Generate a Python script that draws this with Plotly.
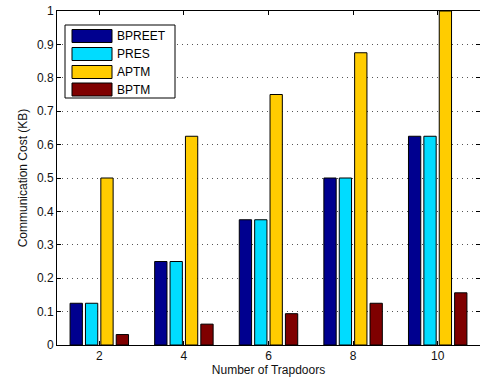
import plotly.graph_objects as go

trapdoors = [2, 4, 6, 8, 10]
series_names = ["BPREET", "PRES", "APTM", "BPTM"]
bpreet = [0.125, 0.25, 0.375, 0.5, 0.625]
pres = [0.125, 0.25, 0.375, 0.5, 0.625]
aptm = [0.5, 0.625, 0.75, 0.875, 1.0]
bptm = [0.03125, 0.0625, 0.09375, 0.125, 0.15625]
colors = ["#00008F", "#00DCFF", "#FFCC00", "#7F0000"]
y_ticks = [0, 0.1, 0.2, 0.3, 0.4, 0.5, 0.6, 0.7, 0.8, 0.9, 1]
y_tick_labels = ["0", "0.1", "0.2", "0.3", "0.4", "0.5", "0.6", "0.7", "0.8", "0.9", "1"]

W, H = 480, 381
ML, MR, MT, MB = 57, 0, 11, 36
PW, PH = W - ML - MR, H - MT - MB

fig = go.Figure()
for name, vals, col in zip(series_names, [bpreet, pres, aptm, bptm], colors):
    fig.add_trace(go.Bar(x=trapdoors, y=vals, name=name, marker_color=col,
                         marker_line_color="black", marker_line_width=1,
                         showlegend=False))

fam = "Liberation Sans, Arial, Helvetica, sans-serif"
font = dict(family=fam, size=12, color="#111")
tickfont = dict(family=fam, size=12, color="#111")

fig.update_layout(
    width=W, height=H,
    margin=dict(l=ML, r=MR, t=MT, b=MB),
    paper_bgcolor="white", plot_bgcolor="white",
    barmode="group", bargap=0.2727, bargroupgap=0.2,
    font=font,
    xaxis=dict(range=[1, 11], tickvals=trapdoors, ticktext=[str(t) for t in trapdoors],
               ticks="inside", ticklen=4, tickcolor="black", showline=True,
               linecolor="black", linewidth=1, mirror=True, showgrid=False,
               zeroline=False, tickfont=tickfont,
               title=dict(text="Number of Trapdoors", standoff=3, font=font)),
    yaxis=dict(range=[0, 1], tickvals=y_ticks, ticktext=y_tick_labels,
               ticks="inside", ticklen=4, tickcolor="black", showline=True,
               linecolor="black", linewidth=1, mirror=False, showgrid=True,
               gridcolor="#555", griddash="1px,4px", gridwidth=1, zeroline=False,
               tickfont=tickfont,
               title=dict(text="Communication Cost (KB)", standoff=6, font=font)),
    xaxis2=dict(range=[1, 11], overlaying="x", side="top", tickvals=trapdoors,
                ticks="inside", ticklen=4, tickcolor="black", showticklabels=False,
                showline=False, showgrid=False, zeroline=False),
    yaxis2=dict(range=[0, 1], overlaying="y", side="right", tickvals=y_ticks,
                ticks="inside", ticklen=4, tickcolor="black", showticklabels=False,
                showline=False, showgrid=False, zeroline=False),
)
# invisible trace so the mirror axes render
fig.add_trace(go.Scatter(x=[1], y=[0], xaxis="x2", yaxis="y2", mode="markers",
                         marker=dict(opacity=0), showlegend=False, hoverinfo="skip"))

def px(x):
    return (x - ML) / PW

def py(y):
    return (H - MB - y) / PH

# custom legend (MATLAB-style wide swatches)
fig.add_shape(type="rect", xref="paper", yref="paper",
              x0=px(65), x1=px(175), y0=py(98), y1=py(25),
              line=dict(color="black", width=1), fillcolor="white", layer="above")
row_y = [36, 54, 72, 89.5]
for name, col, ry in zip(series_names, colors, row_y):
    fig.add_shape(type="rect", xref="paper", yref="paper",
                  x0=px(72), x1=px(112), y0=py(ry + 6.5), y1=py(ry - 6.5),
                  line=dict(color="black", width=1), fillcolor=col, layer="above")
    fig.add_annotation(xref="paper", yref="paper", x=px(115), y=py(ry),
                       text=name, showarrow=False, xanchor="left", yanchor="middle",
                       font=dict(family=fam, size=12, color="black"))

fig.write_html("out.html", config={"displayModeBar": False},
               post_script="document.body.style.margin='0px';document.body.style.overflow='hidden';")
